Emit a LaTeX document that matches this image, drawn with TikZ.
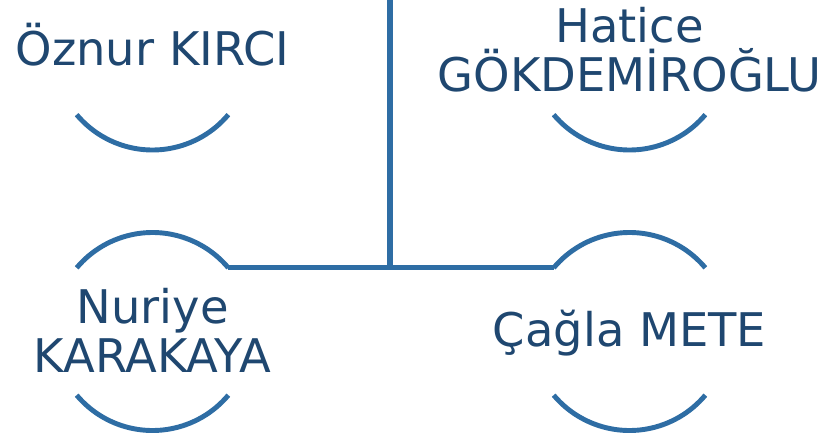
\documentclass[tikz,border=0pt]{standalone}
\usepackage{fontspec}
\setmainfont{DejaVu Sans}
\usepackage{xcolor}
\usetikzlibrary{calc}

\definecolor{namecol}{HTML}{1F4770}
\definecolor{linecol}{HTML}{2E6DA4}

\begin{document}
\begin{tikzpicture}[
    x=0.03cm, y=0.03cm,
    person/.style={inner sep=0pt, align=center, text=namecol, font=\fontsize{39.6pt}{41.8pt}\selectfont},
    oneline/.style={text height=28pt, text depth=3.1pt},
    bracket/.style={draw=linecol, line width=4.2pt},
    link/.style={draw=linecol, line width=4.4pt}
]
\useasboundingbox (0,0) rectangle (823,437);

% people
\node[person, oneline] (oznur) at (152.5,386) {Öznur KIRCI};
\node[person] (hatice) at (629.5,387) {Hatice\\GÖKDEMİROĞLU};
\node[person] (nuriye) at (152.5,106.5) {Nuriye\\KARAKAYA};
\node[person, oneline] (cagla) at (629.5,105.5) {Çağla METE};

% arcs round the names
\draw[bracket] ([shift={(220:99)}]oznur.center) arc[start angle=220, end angle=320, radius=99];
\draw[bracket] ([shift={(220:99)}]hatice.center) ++(0,-1) arc[start angle=220, end angle=320, radius=99];
\draw[bracket] ([shift={(40:99)}]nuriye.center) ++(0,-1) arc[start angle=40, end angle=140, radius=99];
\draw[bracket] ([shift={(220:99)}]nuriye.center) ++(0,-1) arc[start angle=220, end angle=320, radius=99];
\draw[bracket] ([shift={(40:99)}]cagla.center) arc[start angle=40, end angle=140, radius=99];
\draw[bracket] ([shift={(220:99)}]cagla.center) arc[start angle=220, end angle=320, radius=99];

% connectors
\coordinate (top) at (390,437);
\coordinate (left-end) at ([shift={(40:99)}]cagla.center -| nuriye.center);
\coordinate (right-end) at ([shift={(140:99)}]cagla.center);
\draw[link] (left-end) -- (right-end);
\draw[link] (top) -- (top |- right-end);

\end{tikzpicture}
\end{document}
